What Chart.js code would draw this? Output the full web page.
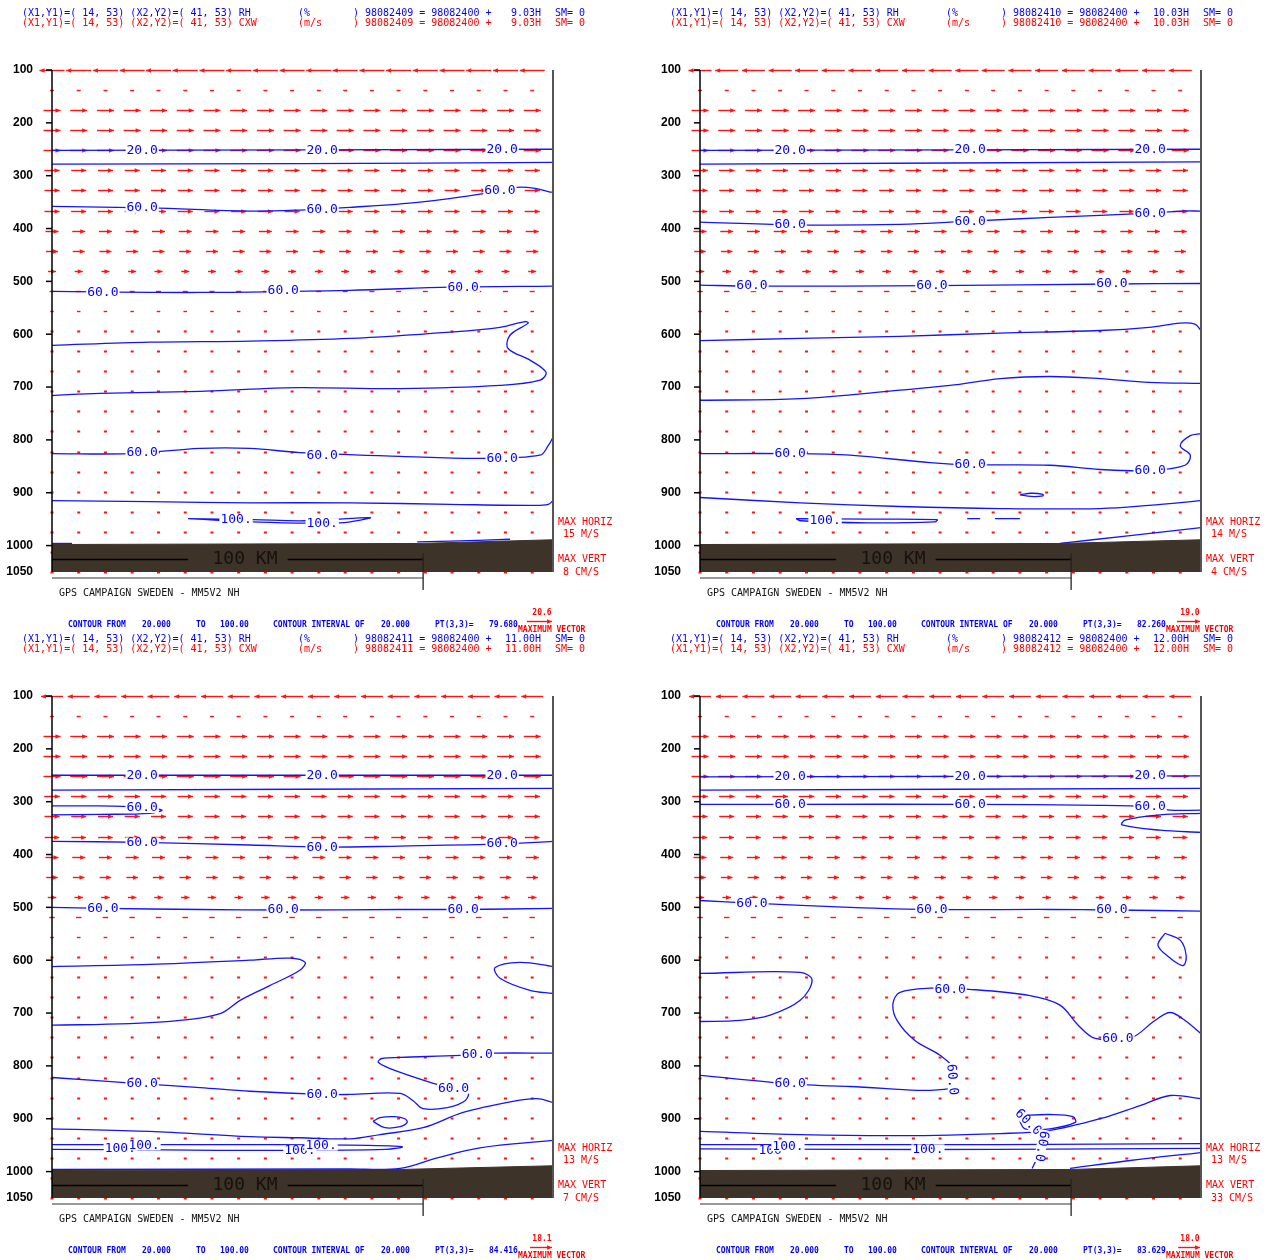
<!DOCTYPE html>
<html>
<head>
<meta charset="utf-8">
<title>GPS CAMPAIGN SWEDEN - MM5V2 NH</title>
<script src="https://cdn.jsdelivr.net/npm/chart.js@4.4.1/dist/chart.umd.min.js"></script>
<style>
  body { margin: 0; background: #fff; width: 1269px; height: 1260px; overflow: hidden; position: relative; }
  canvas { position: absolute; }
</style>
</head>
<body>
<canvas id="c1" width="648" height="640" style="left:0;top:0"></canvas>
<canvas id="c2" width="648" height="640" style="left:648px;top:0"></canvas>
<canvas id="c3" width="648" height="640" style="left:0;top:626px"></canvas>
<canvas id="c4" width="648" height="640" style="left:648px;top:626px"></canvas>
<script>
// model levels (hPa) carrying the wind vectors, and vector columns (km along the section)
const levels = [100,138,176,214,252,290,328,366,404,442,480,518,556,594,632,670,708,746,784,822,860,898,936,974,1012,1050];
const vecCols = [0,7.2,14.4,21.6,28.7,35.9,43.1,50.3,57.5,64.7,71.9,79.0,86.2,93.4,100.6,107.8,115.0,122.2,129.4];
const pTicks = [100,200,300,400,500,600,700,800,900,1000,1050];

const dates = ['98082409','98082410','98082411','98082412'];
const hours = ['9.03H','10.03H','11.00H','12.00H'];
const maxHoriz = [15,14,13,13];
const maxVert = [8,4,7,33];
const ptValue = ['79.680','82.260','84.416','83.629'];
const maxVector = [20.6,19.0,18.1,18.0];

// cross-section wind (m/s) per level
const wind1 = [-20.6,3.3,14,14,14,12.4,12.4,12.4,10.7,9.9,6.6,4.1,2.9,2.5,2.1,2.1,2.1,2.1,2.1,2.1,2.1,2.5,2.5,2.5,2.5,2.5];
const wind2 = [-19.0,3.3,14,14,14,12.8,12.4,12,10.7,9.5,7,4.5,3,2.5,2.1,2.1,2.1,2.1,2.1,2.1,2.1,2.5,2.5,2.5,2.5,2.5];
const wind3 = [-18.1,3.3,14,14,14,12.8,12.4,12,10.7,9.5,7,4.5,3,2.5,2.1,2.1,2.1,2.1,2.1,2.1,2.1,2.5,2.5,2.5,2.5,2.5];
const wind4 = [-18.0,3.3,14,14,14,12.8,12.4,12,10.7,9.5,7,4.5,3,2.5,2.1,2.1,2.1,2.1,2.1,2.1,2.1,2.5,2.5,2.5,2.5,2.5];

// surface pressure along the section
const ground1 = [[0,998],[98.4,996],[135,989]];
const ground2 = [[0,998],[97,996],[135,989]];
const ground3 = [[0,998],[93.8,996],[135,989]];
const ground4 = [[0,998],[99.7,996],[135,989]];

// RH contours, [km, hPa]
const rh1_20 = [[0,252],[135,250]];
const rh1_40 = [[0,278],[67,277],[135,275]];
const rh1_60a = [[0,358],[26.4,361],[53.4,367],[66.8,365],[80.3,360],[99.2,350],[117.2,333],[125.3,322],[130.2,324],[134.2,331],[135,331]];
const rh1_60b = [[0,519],[39.9,521],[80.3,517],[107.3,511],[135,509]];
const rh1_80a = [[0,621],[26.4,615],[53.4,613],[80.3,608],[107.3,596],[120.7,587],[127.5,576],[128.3,579],[123.4,602],[122.9,627],[128.8,649],[133.1,672],[131.5,687],[120.7,697],[93.8,703],[66.8,701],[53.4,704],[39.9,708],[12.9,712],[0,716]];
const rh1_60c = [[0,826],[21.0,826],[39.9,816],[53.4,816],[66.8,824],[93.8,831],[115.3,835],[131.5,829],[133.7,811],[135,795]];
const rh1_80b = [[0,915],[26.4,917],[53.4,919],[80.3,919],[107.3,922],[130,924],[133.7,922],[135,915]];
const rh1_100a = [[36.7,949],[54.2,951],[68.2,953],[85.7,947],[77.6,957],[54.2,955],[36.7,949]];
const rh1_100b = [[0,996],[5.4,996]];
const rh1_100c = [[98.4,993],[110,991],[123.4,988]];

const rh2_20 = [[0,252],[135,250]];
const rh2_40 = [[0,278],[135,274]];
const rh2_60a = [[0,388],[24.3,393],[53.9,392],[72.8,386],[94.3,379],[121.3,371],[129.4,367],[135,367]];
const rh2_60b = [[0,507],[14,509],[62.5,508],[111,505],[135,504]];
const rh2_80a = [[0,612],[27.0,608],[53.9,604],[80.9,598],[107.8,593],[121,587],[129.4,579],[133.4,581],[135,593]];
const rh2_80b = [[0,725],[27.0,722],[53.9,706],[67.4,697],[80.9,684],[94.3,680],[107.8,684],[121,691],[135,693]];
const rh2_60c = [[0,826],[24.3,826],[40.4,829],[62.0,843],[72.8,847],[94.3,848],[107.8,856],[121.3,858],[130.7,848],[132.1,829],[129.4,811],[132.1,792],[135,788]];
const rh2_80c = [[0,909],[27.0,919],[53.9,926],[80.9,930],[107.8,930],[121,924],[135,915]];
const rh2_80d = [[86.2,904],[89.2,901],[92.4,903],[92.4,906],[89.2,907],[86.2,904]];
const rh2_100a = [[25.9,949],[45,950],[63.9,951],[63.3,955],[45,957],[27,953],[25.9,949]];
const rh2_100b = [[72,949],[75.5,949]];
const rh2_100c = [[79.5,949],[86.2,949]];
const rh2_100d = [[97,996],[115.9,981],[135,966]];

const rh3_20 = [[0,250],[135,250]];
const rh3_40 = [[0,278],[135,275]];
const rh3_60s = [[0,308],[12.9,308],[24.3,311],[29.6,316],[26.4,322],[12.9,324],[0,325]];
const rh3_60a = [[0,375],[24.3,377],[53.4,382],[72.8,386],[93.8,384],[121.3,380],[135,375]];
const rh3_60b = [[0,500],[13.7,502],[39.9,504],[62.3,505],[93.8,504],[110.8,504],[135,502]];
const rh3_80a = [[0,612],[26.4,608],[53.4,600],[64.1,596],[68.2,604],[66.8,619],[58.7,648],[50.7,676],[45.3,701],[34.5,714],[21,720],[0,723]];
const rh3_80b = [[135,612],[126.1,604],[119.4,614],[120.7,634],[128.8,657],[135,663]];
const rh3_60c = [[135,776],[118.9,776],[110,780],[93.8,784],[88.9,786],[87.9,793],[91.1,805],[101.9,831],[108.2,843],[112.1,850],[111.3,866],[106.5,879],[100,881],[97.3,866],[93.8,852],[80.3,854],[72.8,854],[53.4,848],[39.9,841],[24.3,834],[0,822]];
const rh3_80c = [[0,919],[26.4,924],[53.4,934],[66.8,936],[80.3,938],[88.4,930],[100,917],[110.8,888],[124.2,867],[130.7,862],[135,869]];
const rh3_80d = [[86.5,905],[88.4,898],[92.4,896],[95.1,900],[95.7,907],[93.8,915],[89.7,917],[86.5,905]];
const rh3_100a = [[0,949],[40,949],[80,950],[94.3,953],[90,958],[60,960],[30,959],[0,958]];
const rh3_100b = [[0,996],[80,995],[93.8,994],[103.8,974],[115.3,955],[135,941]];

const rh4_20 = [[0,253],[135,251]];
const rh4_40 = [[0,278],[135,275]];
const rh4_60a = [[0,305],[24.3,305],[72.8,305],[107.8,307],[121.3,310],[126.7,316],[135,316]];
const rh4_80s = [[135,322],[124,325],[114.5,335],[113.7,344],[124,354],[135,358]];
const rh4_60b = [[0,487],[14,492],[40.4,500],[62.5,504],[94.3,504],[111,505],[135,507]];
const rh4_80c = [[125.3,549],[129.4,562],[131,591],[130.2,610],[126.7,596],[123.4,572],[125.3,549]];
const rh4_80a = [[0,625],[27.0,623],[30.2,638],[27.0,676],[18.9,704],[10.8,714],[0,716]];
const rh4_60c = [[0,818],[24.3,834],[40.4,839],[67.4,843],[68.7,809],[64.7,780],[57.9,752],[53.1,714],[52.0,682],[53.9,661],[62.0,653],[72.5,655],[88.9,667],[97.0,685],[101.9,723],[106.5,748],[115.9,748],[122.6,714],[126.7,699],[130.7,714],[135,739]];
const rh4_80b = [[0,924],[27,930],[53.9,932],[80.9,928],[94.3,922],[107.8,900],[118.6,875],[126.7,856],[135,862]];
const rh4_60d = [[86.2,894],[94.3,892],[100.5,896],[101.1,907],[94.3,919],[87.6,919],[86.2,904],[86.2,894]];
const rh4_60e = [[93.5,921],[92.8,935],[92,955],[90.8,975],[89.5,994]];
const rh4_100a = [[0,949],[40,949],[80,949],[135,947]];
const rh4_100b = [[0,957],[40,958],[80,958],[135,956]];
const rh4_100c = [[99.7,994],[115.9,979],[135,964]];

// contour labels: [km, hPa, text, rotation°]
const lab1 = [[24.3,252,'20.0'],[72.8,252,'20.0'],[121.3,250,'20.0'],[24.3,361,'60.0'],[72.8,365,'60.0'],[120.7,329,'60.0'],
  [13.7,521,'60.0'],[62.3,517,'60.0'],[110.8,511,'60.0'],[24.3,825,'60.0'],[72.8,829,'60.0'],[121.3,835,'60.0'],
  [49.6,951,'100.'],[72.8,958,'100.']];
const lab2 = [[24.3,252,'20.0'],[72.8,251,'20.0'],[121.3,250,'20.0'],[24.3,393,'60.0'],[72.8,386,'60.0'],[121.3,371,'60.0'],
  [14,509,'60.0'],[62.5,508,'60.0'],[111,505,'60.0'],[24.3,826,'60.0'],[72.8,847,'60.0'],[121.3,858,'60.0'],[33.7,952,'100.']];
const lab3 = [[24.3,250,'20.0'],[72.8,250,'20.0'],[121.3,250,'20.0'],[24.3,312,'60.0'],[24.3,377,'60.0'],[72.8,386,'60.0'],
  [121.3,380,'60.0'],[13.7,502,'60.0'],[62.3,505,'60.0'],[110.8,504,'60.0'],[24.3,834,'60.0'],[72.8,854,'60.0'],
  [114.6,778,'60.0'],[108.2,843,'60.0'],[18.4,957,'100.'],[24.8,950,'100.'],[66.8,960,'100.'],[72.5,951,'100.']];
const lab4 = [[24.3,253,'20.0'],[72.8,252,'20.0'],[121.3,251,'20.0'],[24.3,305,'60.0'],[72.8,305,'60.0'],[121.3,310,'60.0'],
  [14,492,'60.0'],[62.5,504,'60.0'],[111,505,'60.0'],[24.3,834,'60.0'],[67.4,655,'60.0'],[112.6,748,'60.0'],
  [67.9,826,'60.0',85],[88.4,907,'60.0',45],[92,952,'60.0',100],[18.9,960,'100'],[23.7,952,'100.'],[61.4,958,'100.']];

const panels = [
  { id: 'c1', wind: wind1, ground: ground1, labels: lab1, lines: [rh1_20,rh1_40,rh1_60a,rh1_60b,rh1_80a,rh1_60c,rh1_80b,rh1_100a,rh1_100b,rh1_100c] },
  { id: 'c2', wind: wind2, ground: ground2, labels: lab2, lines: [rh2_20,rh2_40,rh2_60a,rh2_60b,rh2_80a,rh2_80b,rh2_60c,rh2_80c,rh2_80d,rh2_100a,rh2_100b,rh2_100c,rh2_100d] },
  { id: 'c3', wind: wind3, ground: ground3, labels: lab3, lines: [rh3_20,rh3_40,rh3_60s,rh3_60a,rh3_60b,rh3_80a,rh3_80b,rh3_60c,rh3_80c,rh3_80d,rh3_100a,rh3_100b] },
  { id: 'c4', wind: wind4, ground: ground4, labels: lab4, lines: [rh4_20,rh4_40,rh4_60a,rh4_80s,rh4_60b,rh4_80c,rh4_80a,rh4_60c,rh4_80b,rh4_60d,rh4_60e,rh4_100a,rh4_100b,rh4_100c] }
];

const MONO = '"DejaVu Sans Mono", monospace';
const RED = '#ff0000';
const BLUE = '#0000ff';
const KM_PER_MS = 0.327;   // vector length along the section per m/s

function arrow(ctx, x0, x1, y) {
  const len = Math.abs(x1 - x0);
  if (len < 3.5) {
    const xc = (x0 + x1) / 2;
    ctx.fillRect(xc - 1.5, y - 1, 3, 2);
    return;
  }
  const dir = Math.sign(x1 - x0);
  ctx.beginPath();
  ctx.moveTo(x0, y);
  ctx.lineTo(x1, y);
  ctx.stroke();
  if (len > 7) {
    const h = 5;
    ctx.beginPath();
    ctx.moveTo(x1, y);
    ctx.lineTo(x1 - dir * h, y - 2.2);
    ctx.lineTo(x1 - dir * h, y + 2.2);
    ctx.closePath();
    ctx.fill();
  }
}

function sectionPlugin(n) {
  const cfg = panels[n];
  return {
    id: 'section' + n,
    beforeDatasetsDraw(chart) {
      const { ctx, scales: { x, y } } = chart;
      ctx.save();
      ctx.strokeStyle = ctx.fillStyle = '#ff1414';
      ctx.lineWidth = 1.4;
      cfg.wind.forEach((u, i) => {
        const py = Math.round(y.getPixelForValue(levels[i])) + 0.5;
        vecCols.forEach(c => {
          arrow(ctx, x.getPixelForValue(c - u * KM_PER_MS / 2), x.getPixelForValue(c + u * KM_PER_MS / 2), py);
        });
      });
      ctx.restore();
    },
    afterDatasetsDraw(chart) {
      const { ctx, chartArea: a, scales: { x, y } } = chart;
      ctx.save();

      // contour labels
      ctx.font = '13px ' + MONO;
      ctx.textAlign = 'center';
      ctx.textBaseline = 'middle';
      cfg.labels.forEach(([km, p, txt, rot]) => {
        ctx.save();
        ctx.translate(x.getPixelForValue(km), y.getPixelForValue(p));
        if (rot) ctx.rotate(rot * Math.PI / 180);
        const w = ctx.measureText(txt).width;
        ctx.fillStyle = '#fff';
        ctx.fillRect(-w / 2 - 1, -5, w + 2, 10);
        ctx.fillStyle = BLUE;
        ctx.fillText(txt, 0, 0);
        ctx.restore();
      });

      // pressure axis
      ctx.strokeStyle = '#000';
      ctx.lineWidth = 1.5;
      ctx.beginPath();
      ctx.moveTo(a.left, a.top);
      ctx.lineTo(a.left, a.bottom);
      ctx.stroke();
      ctx.font = 'bold 12px "Liberation Sans", Arial, sans-serif';
      ctx.textAlign = 'right';
      ctx.fillStyle = '#000';
      pTicks.forEach(p => {
        const py = y.getPixelForValue(p);
        if (p <= 1000) {
          ctx.beginPath();
          ctx.moveTo(a.left - 6, py);
          ctx.lineTo(a.left, py);
          ctx.stroke();
        }
        ctx.fillText(String(p), 33, py);
      });

      // right frame
      ctx.strokeStyle = '#555';
      ctx.lineWidth = 2;
      ctx.beginPath();
      ctx.moveTo(a.right, a.top);
      ctx.lineTo(a.right, a.bottom);
      ctx.stroke();

      // 100 km scale bar
      const x0 = x.getPixelForValue(0), x100 = x.getPixelForValue(100);
      const by = a.bottom - 12.5;
      ctx.strokeStyle = '#000';
      ctx.lineWidth = 1.3;
      ctx.beginPath();
      ctx.moveTo(x0, by); ctx.lineTo(x.getPixelForValue(36.6), by);
      ctx.moveTo(x.getPixelForValue(63.5), by); ctx.lineTo(x100, by);
      ctx.stroke();
      ctx.font = '18px ' + MONO;
      ctx.textAlign = 'center';
      ctx.fillStyle = '#15120e';
      ctx.fillText('100 KM', x.getPixelForValue(52), by);
      ctx.strokeStyle = '#999';
      ctx.lineWidth = 2;
      ctx.beginPath();
      ctx.moveTo(x0, a.bottom + 6); ctx.lineTo(x100, a.bottom + 6);
      ctx.stroke();
      ctx.strokeStyle = '#222';
      ctx.lineWidth = 1.3;
      ctx.beginPath();
      ctx.moveTo(x100, a.bottom - 19); ctx.lineTo(x100, a.bottom + 18);
      ctx.stroke();

      // vector scale notes
      ctx.font = '10px ' + MONO;
      ctx.textAlign = 'left';
      ctx.fillStyle = RED;
      ctx.fillText('MAX HORIZ', a.right + 5, 522);
      ctx.fillText(maxHoriz[n] + ' M/S', a.right + 10, 534);
      ctx.fillText('MAX VERT', a.right + 5, 559);
      ctx.fillText(maxVert[n] + ' CM/S', a.right + 10, 572);

      // header
      [[BLUE, 'RH', '(%', 13.5], [RED, 'CXW', '(m/s', 23.5]].forEach(([col, fld, unit, ty]) => {
        ctx.fillStyle = col;
        ctx.textAlign = 'left';
        ctx.fillText('(X1,Y1)=( 14, 53) (X2,Y2)=( 41, 53) ' + fld, 22, ty);
        ctx.fillText(unit, 298, ty);
        ctx.fillText(') ' + dates[n] + ' = 98082400 +', 353, ty);
        ctx.textAlign = 'right';
        ctx.fillText(hours[n], 541, ty);
        ctx.textAlign = 'left';
        ctx.fillText('SM= 0', 555, ty);
      });

      // footer
      ctx.fillStyle = '#111';
      ctx.fillText('GPS CAMPAIGN SWEDEN - MM5V2 NH', 59, 593);
      ctx.font = 'bold 8px ' + MONO;
      ctx.fillStyle = BLUE;
      [['CONTOUR FROM', 68], ['20.000', 142], ['TO', 196], ['100.00', 220], ['CONTOUR INTERVAL OF', 273],
       ['20.000', 381], ['PT(3,3)=', 435], [ptValue[n], 489]].forEach(([t, tx]) => ctx.fillText(t, tx, 625));
      ctx.fillStyle = RED;
      ctx.fillText('MAXIMUM VECTOR', 518, 629.5);
      ctx.textAlign = 'center';
      ctx.fillText(maxVector[n].toFixed(1), 542, 613);
      ctx.strokeStyle = ctx.fillStyle = '#ff1414';
      ctx.lineWidth = 1.4;
      arrow(ctx, x.getPixelForValue(135 - maxVector[n] * KM_PER_MS) - 1, a.right - 1, 621.5);

      ctx.restore();
    }
  };
}

panels.forEach((cfg, n) => {
  const datasets = cfg.lines.map(pts => ({
    data: pts.map(([km, p]) => ({ x: km, y: p })),
    showLine: true,
    borderColor: '#1414ff',
    borderWidth: 1.3,
    pointRadius: 0,
    tension: 0.35,
    fill: false,
    order: 1
  }));
  datasets.push({
    data: cfg.ground.map(([km, p]) => ({ x: km, y: p })),
    showLine: true,
    borderColor: '#3d3329',
    borderWidth: 1,
    backgroundColor: '#3d3329',
    pointRadius: 0,
    tension: 0,
    fill: { value: 1050 },
    order: 0
  });
  new Chart(document.getElementById(cfg.id), {
    type: 'scatter',
    data: { datasets },
    options: {
      responsive: false,
      animation: false,
      events: [],
      layout: { padding: { left: 52, top: 70, right: 95, bottom: 68 } },
      scales: {
        x: { type: 'linear', min: 0, max: 135, display: false },
        y: { type: 'linear', min: 100, max: 1050, reverse: true, display: false }
      },
      plugins: { legend: { display: false }, tooltip: { enabled: false } }
    },
    plugins: [sectionPlugin(n)]
  });
});
</script>
</body>
</html>
